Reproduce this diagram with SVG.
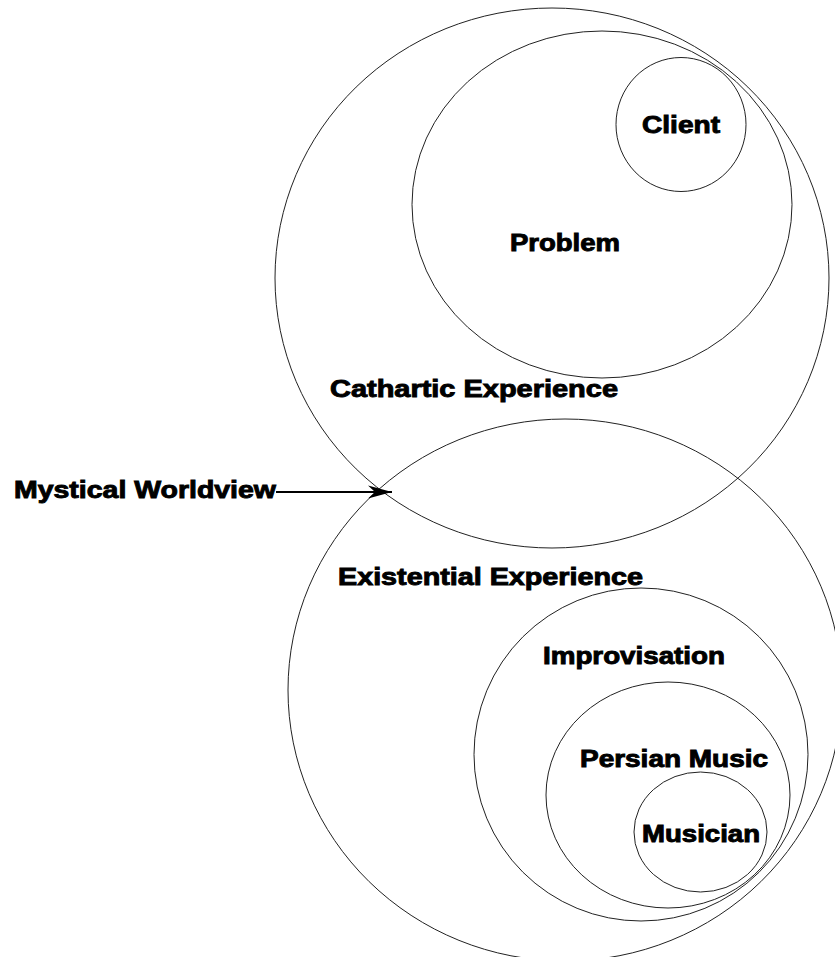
<svg xmlns="http://www.w3.org/2000/svg" width="835" height="957" viewBox="0 0 835 957">
  <style>
    .ring { fill: none; stroke: #222; stroke-width: 1; }
    .lbl { font-family: "Liberation Sans", Arial, sans-serif; font-weight: bold; font-size: 23px; fill: #000; stroke: #000; stroke-width: 0.9; }
    .conn { stroke: #000; stroke-width: 2; fill: none; }
  </style>
  <defs>
    <marker id="stealth" markerWidth="26" markerHeight="16" refX="24" refY="8" orient="auto" markerUnits="userSpaceOnUse">
      <path d="M0,1.5 L24,8 L0,14.5 L7,8 Z" fill="#000"/>
    </marker>
  </defs>
  <rect width="835" height="957" fill="#fff"/>

  <g id="cathartic-experience">
    <ellipse class="ring" cx="552" cy="278" rx="277" ry="270"/>
    <text class="lbl" x="330" y="397" textLength="288" lengthAdjust="spacingAndGlyphs">Cathartic Experience</text>
  </g>
  <g id="problem">
    <ellipse class="ring" cx="602" cy="204.5" rx="190" ry="173.5"/>
    <text class="lbl" x="510" y="251" textLength="110" lengthAdjust="spacingAndGlyphs">Problem</text>
  </g>
  <g id="client">
    <ellipse class="ring" cx="681" cy="124.5" rx="65" ry="67"/>
    <text class="lbl" x="642" y="133" textLength="78" lengthAdjust="spacingAndGlyphs">Client</text>
  </g>
  <g id="existential-experience">
    <ellipse class="ring" cx="565" cy="690" rx="277" ry="271"/>
    <text class="lbl" x="338" y="585" textLength="305" lengthAdjust="spacingAndGlyphs">Existential Experience</text>
  </g>
  <g id="improvisation">
    <ellipse class="ring" cx="641" cy="754.5" rx="167" ry="166.5"/>
    <text class="lbl" x="543" y="664" textLength="182" lengthAdjust="spacingAndGlyphs">Improvisation</text>
  </g>
  <g id="persian-music">
    <ellipse class="ring" cx="668" cy="795" rx="122" ry="113"/>
    <text class="lbl" x="580" y="767" textLength="188" lengthAdjust="spacingAndGlyphs">Persian Music</text>
  </g>
  <g id="musician">
    <ellipse class="ring" cx="700.5" cy="832" rx="66.5" ry="60"/>
    <text class="lbl" x="642" y="842" textLength="118" lengthAdjust="spacingAndGlyphs">Musician</text>
  </g>
  <g id="mystical-worldview">
    <text class="lbl" x="14" y="498" textLength="262" lengthAdjust="spacingAndGlyphs">Mystical Worldview</text>
  </g>

  <g id="connectors">
    <line class="conn" x1="276" y1="492" x2="392" y2="492" marker-end="url(#stealth)"/>
  </g>
</svg>
